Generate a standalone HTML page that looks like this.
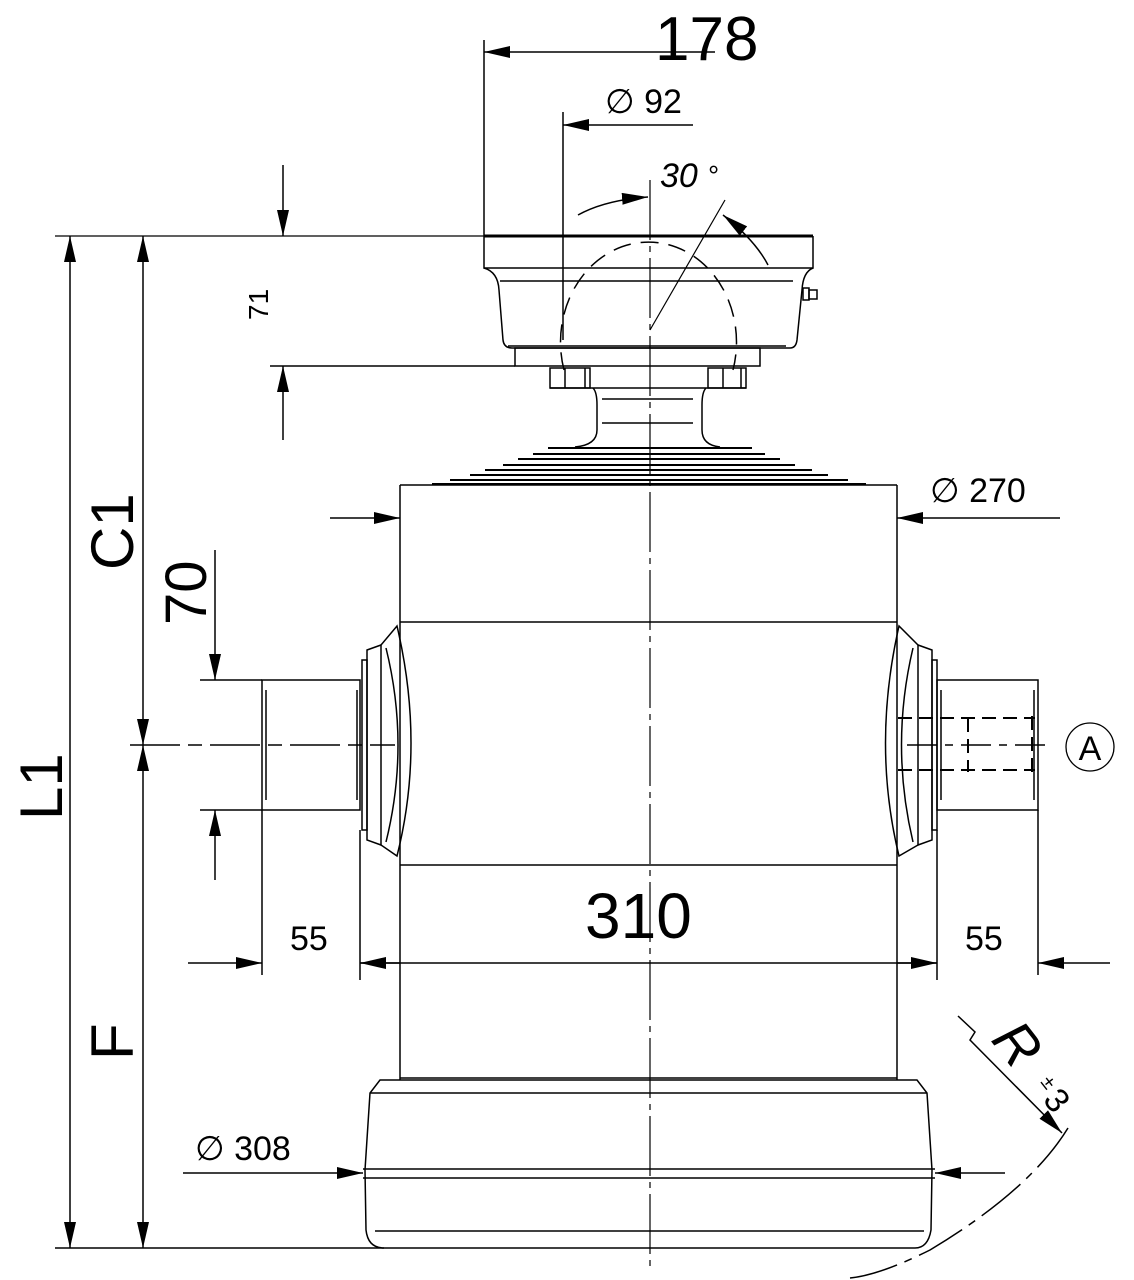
<!DOCTYPE html>
<html><head><meta charset="utf-8"><style>
html,body{margin:0;padding:0;background:#fff;}
svg{display:block;}
text{font-family:"Liberation Sans",sans-serif;fill:#000;}
</style></head><body>
<svg width="1134" height="1280" viewBox="0 0 1134 1280" xmlns="http://www.w3.org/2000/svg">
<defs>
<marker id="a" viewBox="0 0 26 12" refX="26" refY="6" markerWidth="26" markerHeight="12" markerUnits="userSpaceOnUse" orient="auto-start-reverse">
<path d="M0,0 L26,6 L0,12 z" fill="#000" stroke="none"/>
</marker>
</defs>
<g stroke="#000" stroke-width="1.5" fill="none">
<line x1="650" y1="180" x2="650" y2="1270" stroke-width="1.2" stroke-dasharray="60,6,6,6"/>
<line x1="484" y1="236" x2="813" y2="236" stroke-width="3"/>
<path d="M484,236 V268 H813 V236"/>
<path d="M484,268 Q498,272 499,290 L503,340 Q504,348 512,348 H790 Q796,348 797,340 L802,290 Q803,272 813,268"/>
<line x1="500" y1="281" x2="793" y2="281"/>
<line x1="508" y1="346" x2="786" y2="346"/>
<rect x="515" y="348" width="245" height="18"/>
<rect x="550" y="368" width="40" height="20"/>
<line x1="565" y1="368" x2="565" y2="388"/><line x1="585" y1="368" x2="585" y2="388"/>
<rect x="708" y="368" width="38" height="20"/>
<line x1="723" y1="368" x2="723" y2="388"/><line x1="741" y1="368" x2="741" y2="388"/>
<line x1="550" y1="388" x2="746" y2="388"/>
<path d="M593,388 Q597,392 597,405 V430 Q597,445 575,447"/>
<path d="M706,388 Q702,392 702,405 V430 Q702,445 720,447"/>
<line x1="602" y1="399" x2="693" y2="399"/><line x1="602" y1="423" x2="693" y2="423"/>
<rect x="803" y="288" width="6" height="12"/><rect x="809" y="290" width="8" height="9"/>
<path d="M564,370 A88,100 0 1 1 733,370" stroke-dasharray="18,10"/>
<line x1="650" y1="330" x2="725" y2="200" stroke-width="1.2"/>
<path d="M578,215 Q605,200 648,197" marker-end="url(#a)"/>
<path d="M768,265 Q755,240 723,215" marker-end="url(#a)"/>
<g stroke-width="2">
<path d="M548,448 H752"/><path d="M533,454 H765"/><path d="M518,459 H780"/><path d="M503,465 H795"/><path d="M485,470 H812"/><path d="M470,475 H828"/><path d="M450,480 H848"/><path d="M432,484 H866"/>
</g>
<path d="M400,485 V1080 M897,485 V1080"/>
<line x1="400" y1="485" x2="897" y2="485"/>
<line x1="400" y1="622" x2="897" y2="622"/>
<line x1="400" y1="865" x2="897" y2="865"/>
<rect x="262" y="680" width="98" height="130"/>
<line x1="266" y1="690" x2="266" y2="800"/><line x1="357" y1="690" x2="357" y2="800"/>
<rect x="362" y="660" width="5" height="170"/>
<path d="M367,650 L381,645 V845 L367,840 Z"/>
<path d="M381,645 L397,626 Q425,745 397,856 L381,845"/>
<path d="M386,648 Q410,745 386,842"/>
<line x1="130" y1="745" x2="395" y2="745" stroke-dasharray="50,8,14,8"/>
<rect x="937" y="680" width="101" height="130"/>
<line x1="941" y1="690" x2="941" y2="800"/><line x1="1034" y1="690" x2="1034" y2="800"/>
<rect x="932" y="660" width="5" height="170"/>
<path d="M932,650 L918,645 V845 L932,840 Z"/>
<path d="M918,645 L899,626 Q872,745 899,856 L918,845"/>
<path d="M913,648 Q890,745 913,842"/>
<g stroke-dasharray="14,7" stroke-width="2">
<line x1="898" y1="718" x2="1035" y2="718"/><line x1="898" y1="770" x2="1035" y2="770"/>
<line x1="968" y1="718" x2="968" y2="772"/><line x1="1032" y1="716" x2="1032" y2="772"/>
</g>
<line x1="907" y1="745" x2="1050" y2="745" stroke-dasharray="30,8,8,8"/>
<circle cx="1090" cy="747" r="24" stroke-width="1.3"/>
<path d="M400,1078 H897"/>
<path d="M380,1080 H917 L927,1093 L932,1170 L931,1230 Q928,1248 915,1248 H384 Q368,1248 366,1230 L365,1170 L370,1093 Z"/>
<line x1="370" y1="1093" x2="927" y2="1093"/>
<line x1="363" y1="1169" x2="935" y2="1169"/>
<line x1="363" y1="1178" x2="935" y2="1178"/>
<line x1="375" y1="1231" x2="924" y2="1231"/>
<line x1="55" y1="1248" x2="384" y2="1248"/>
<path d="M958,1016 L975,1032 L970,1040 L1062,1133" marker-end="url(#a)"/>
<path d="M1068,1128 Q1030,1190 930,1250 Q880,1275 850,1278" stroke-dasharray="50,8,8,8"/>
<line x1="55" y1="236" x2="484" y2="236" stroke-width="1.2"/>
<line x1="70" y1="236" x2="70" y2="1248" marker-start="url(#a)" marker-end="url(#a)"/>
<line x1="143" y1="236" x2="143" y2="745" marker-start="url(#a)" marker-end="url(#a)"/>
<line x1="143" y1="745" x2="143" y2="1248" marker-start="url(#a)" marker-end="url(#a)"/>
<line x1="283" y1="165" x2="283" y2="236" marker-end="url(#a)"/>
<line x1="283" y1="440" x2="283" y2="366" marker-end="url(#a)"/>
<line x1="270" y1="366" x2="515" y2="366"/>
<line x1="215" y1="550" x2="215" y2="680" marker-end="url(#a)"/>
<line x1="215" y1="880" x2="215" y2="810" marker-end="url(#a)"/>
<line x1="200" y1="680" x2="262" y2="680"/>
<line x1="200" y1="810" x2="262" y2="810"/>
<line x1="484" y1="40" x2="484" y2="236"/>
<line x1="715" y1="52" x2="484" y2="52" marker-end="url(#a)"/>
<line x1="563" y1="112" x2="563" y2="340"/>
<line x1="693" y1="125" x2="563" y2="125" marker-end="url(#a)"/>
<line x1="330" y1="518" x2="400" y2="518" marker-end="url(#a)"/>
<line x1="1060" y1="518" x2="897" y2="518" marker-end="url(#a)"/>
<line x1="262" y1="810" x2="262" y2="975"/>
<line x1="360" y1="830" x2="360" y2="980"/>
<line x1="937" y1="830" x2="937" y2="980"/>
<line x1="1038" y1="810" x2="1038" y2="975"/>
<line x1="188" y1="963" x2="262" y2="963" marker-end="url(#a)"/>
<line x1="400" y1="963" x2="360" y2="963" marker-end="url(#a)"/>
<line x1="360" y1="963" x2="937" y2="963"/>
<line x1="897" y1="963" x2="937" y2="963" marker-end="url(#a)"/>
<line x1="1110" y1="963" x2="1038" y2="963" marker-end="url(#a)"/>
<line x1="183" y1="1173" x2="363" y2="1173" marker-end="url(#a)"/>
<line x1="1005" y1="1173" x2="935" y2="1173" marker-end="url(#a)"/>
</g>
<text x="655" y="60" font-size="62">178</text>
<text x="605" y="113" font-size="34">∅ 92</text>
<text x="660" y="187" font-size="34" font-style="italic">30</text>
<text x="708" y="185" font-size="28">°</text>
<text x="930" y="502" font-size="34">∅ 270</text>
<text x="585" y="938" font-size="64">310</text>
<text x="290" y="950" font-size="34">55</text>
<text x="965" y="950" font-size="34">55</text>
<text x="195" y="1160" font-size="34">∅ 308</text>
<text x="1090" y="760" font-size="34" text-anchor="middle">A</text>
<text transform="translate(268,320) rotate(-90)" font-size="28">71</text>
<text transform="translate(206,625) rotate(-90)" font-size="58">70</text>
<text transform="translate(133,570) rotate(-90)" font-size="60">C1</text>
<text transform="translate(62,820) rotate(-90)" font-size="60">L1</text>
<text transform="translate(133,1060) rotate(-90)" font-size="60">F</text>
<text transform="translate(990,1040) rotate(52)" font-size="56" font-style="italic">R</text>
<text transform="translate(1040,1082) rotate(52)" font-size="20">±</text>
<text transform="translate(1042,1100) rotate(52)" font-size="34">3</text>
</svg>
</body></html>
